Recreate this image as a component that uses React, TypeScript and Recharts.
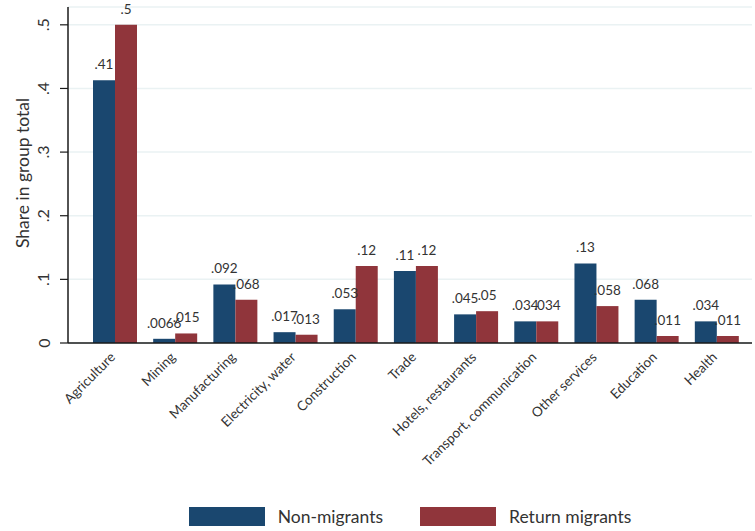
import React from 'react';
import { BarChart, Bar, XAxis, YAxis, CartesianGrid, LabelList, Legend } from 'recharts';

const categories = [
  'Agriculture', 'Mining', 'Manufacturing', 'Electricity, water', 'Construction', 'Trade',
  'Hotels, restaurants', 'Transport, communication', 'Other services', 'Education', 'Health',
];
const nonMigrants = [0.413, 0.0066, 0.092, 0.017, 0.053, 0.113, 0.045, 0.034, 0.125, 0.068, 0.034];
const returnMigrants = [0.5, 0.015, 0.068, 0.013, 0.121, 0.121, 0.05, 0.034, 0.058, 0.011, 0.011];
const yTicks = [0, 0.1, 0.2, 0.3, 0.4, 0.5];
const seriesNames = ['Non-migrants', 'Return migrants'];

const data = categories.map((c, i) => ({ cat: c, non: nonMigrants[i], ret: returnMigrants[i] }));

const FONT = 'Lato, "Open Sans", sans-serif';
const TEXT = '#333333';
const BLUE = '#1a476f';
const RED = '#90353b';

const fmt = (v: any) => {
  const n = Number(v);
  if (n === 0) return '0';
  let s = n.toPrecision(2);
  if (s.includes('.')) s = s.replace(/0+$/, '').replace(/\.$/, '');
  return s.replace(/^0\./, '.');
};

const YTick = (props: any) => {
  const { x, y, payload } = props;
  const cx = x - 15;
  return (
    <text x={cx} y={y} transform={`rotate(-90 ${cx} ${y})`} textAnchor="middle" dominantBaseline="central"
      fontFamily={FONT} fontSize={16} fill={TEXT}>
      {fmt(payload.value)}
    </text>
  );
};

const XTick = (props: any) => {
  const { x, y, payload } = props;
  const ex = x + 1;
  const ey = y + 15;
  return (
    <text x={ex} y={ey} transform={`rotate(-45 ${ex} ${ey})`} textAnchor="end"
      fontFamily={FONT} fontSize={13.5} fill={TEXT}>
      {payload.value}
    </text>
  );
};

const YLabel = (props: any) => {
  const vb = props.viewBox || { x: 0, y: 0, width: 0, height: 0 };
  const cy = vb.y + vb.height / 2 - 2;
  const cx = 22;
  return (
    <text x={cx} y={cy} transform={`rotate(-90 ${cx} ${cy})`} textAnchor="middle" dominantBaseline="central"
      fontFamily={FONT} fontSize={17.5} fill={TEXT}>
      Share in group total
    </text>
  );
};

const LegendContent = () => {
  const colors = [BLUE, RED];
  return (
    <div style={{ height: 36, boxSizing: 'border-box', paddingTop: 12, paddingLeft: 68, paddingRight: 3,
      display: 'flex', justifyContent: 'center', alignItems: 'flex-start', fontFamily: FONT }}>
      {seriesNames.map((n, i) => (
        <div key={n} style={{ display: 'flex', alignItems: 'center', marginRight: i === 0 ? 37 : 0 }}>
          <div style={{ width: 76, height: 19, background: colors[i], marginRight: 13 }} />
          <span style={{ fontSize: 17.5, color: TEXT, lineHeight: '19px' }}>{n}</span>
        </div>
      ))}
    </div>
  );
};

export default function App() {
  return (
    <div style={{ position: 'absolute', left: 0, top: 0, width: 755, height: 531, background: '#fff' }}>
      <BarChart width={755} height={531} data={data} margin={{ top: 7, right: 3, left: 0, bottom: 0 }}
        barGap={0} barCategoryGap={16}>
        <CartesianGrid horizontal vertical={false} stroke="#eaf2f3" strokeWidth={1.5} />
        <XAxis dataKey="cat" height={152} tickLine={false} tickSize={0} tickMargin={0} interval={0}
          padding={{ left: 17, right: 5 }} axisLine={{ stroke: '#1a1a1a', strokeWidth: 1.5 }} tick={<XTick />} />
        <YAxis width={68} domain={[0, 0.528]} ticks={yTicks} tickSize={8} tickMargin={2}
          tickLine={{ stroke: '#1a1a1a', strokeWidth: 1.2 }} axisLine={{ stroke: '#1a1a1a', strokeWidth: 1.5 }}
          tick={<YTick />} label={<YLabel />} allowDataOverflow />
        <Legend verticalAlign="bottom" content={<LegendContent />} wrapperStyle={{ left: 0, width: 755 }} />
        <Bar dataKey="non" name={seriesNames[0]} fill={BLUE} barSize={22} isAnimationActive={false}>
          <LabelList dataKey="non" position="top" offset={11} formatter={fmt}
            style={{ fontFamily: FONT, fontSize: 13.5, fill: TEXT }} />
        </Bar>
        <Bar dataKey="ret" name={seriesNames[1]} fill={RED} barSize={22} isAnimationActive={false}>
          <LabelList dataKey="ret" position="top" offset={11} formatter={fmt}
            style={{ fontFamily: FONT, fontSize: 13.5, fill: TEXT }} />
        </Bar>
      </BarChart>
    </div>
  );
}
